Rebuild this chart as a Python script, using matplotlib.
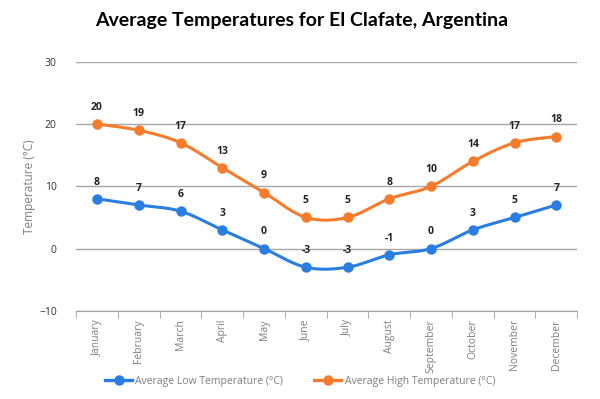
import matplotlib
import matplotlib.pyplot as plt
import numpy as np

matplotlib.use("Agg")

months = ["January", "February", "March", "April", "May", "June",
          "July", "August", "September", "October", "November", "December"]
low_temps = [8, 7, 6, 3, 0, -3, -3, -1, 0, 3, 5, 7]
high_temps = [20, 19, 17, 13, 9, 5, 5, 8, 10, 14, 17, 18]

BLUE = "#2a7de1"
ORANGE = "#f67c2c"


def _smooth(x, y, steps=20):
    """Catmull-Rom curve through the points (like Excel's smoothed line)."""
    x = np.asarray(x, float)
    y = np.asarray(y, float)
    px = np.concatenate([[x[0]], x, [x[-1]]])
    py = np.concatenate([[y[0]], y, [y[-1]]])
    xs, ys = [], []
    t = np.linspace(0, 1, steps)
    for i in range(1, len(px) - 2):
        p0, p1, p2, p3 = (np.array([px[j], py[j]]) for j in (i - 1, i, i + 1, i + 2))
        c1 = p1 + (p2 - p0) / 6
        c2 = p2 - (p3 - p1) / 6
        pts = ((1 - t)[:, None] ** 3 * p1 + 3 * ((1 - t) ** 2 * t)[:, None] * c1
               + 3 * ((1 - t) * t ** 2)[:, None] * c2 + (t ** 3)[:, None] * p2)
        xs.extend(pts[:, 0])
        ys.extend(pts[:, 1])
    return np.array(xs), np.array(ys)


plt.rcParams["font.family"] = ["Open Sans", "DejaVu Sans"]

fig = plt.figure(figsize=(6, 3.99), dpi=100)
ax = fig.add_axes([0.127, 0.221, 0.835, 0.624])

x = np.arange(len(months))
for vals, color, name in [(low_temps, BLUE, "Average Low Temperature (°C)"),
                          (high_temps, ORANGE, "Average High Temperature (°C)")]:
    sx, sy = _smooth(x, vals)
    ax.plot(sx, sy, color=color, lw=2.2, zorder=3, solid_capstyle="round")
    ax.plot(x, vals, "o", color=color, ms=6.5, zorder=4)
    ax.plot([], [], "-o", color=color, lw=2.4, ms=6.5, label=name)
    for xi, v in zip(x, vals):
        ax.annotate(str(v), (xi, v), xytext=(0, 8), textcoords="offset points",
                    ha="center", va="bottom", fontsize=7.5, fontweight="bold",
                    color="#222222")

ax.set_xlim(-0.5, len(months) - 0.5)
ax.set_ylim(-10, 30)
ax.set_yticks([-10, 0, 10, 20, 30])
ax.set_xticks(x)
ax.set_xticklabels(months, rotation=90, fontsize=7.5, color="#7f7f7f")
ax.set_xticks(np.arange(-0.5, len(months)), minor=True)
ax.tick_params(axis="x", which="major", length=0, pad=6)
ax.tick_params(axis="x", which="minor", length=5, color="#a0a0a0")
ax.tick_params(axis="y", length=0, labelsize=7.5, labelcolor="#333333", pad=14)
ax.grid(axis="y", color="#a6a6a6", lw=1)
ax.set_axisbelow(True)
for side in ("top", "right", "left"):
    ax.spines[side].set_visible(False)
ax.spines["bottom"].set_color("#a0a0a0")
ax.set_ylabel("Temperature (°C)", fontsize=8.5, color="#7f7f7f", labelpad=2)

fig.suptitle("Average Temperatures for El Clafate, Argentina", x=0.502, y=0.97,
             fontsize=14, fontweight="bold", family=["Lato", "DejaVu Sans"])

fig.legend(loc="center", bbox_to_anchor=(0.5, 0.045), ncol=2, frameon=False,
           fontsize=7.5, labelcolor="#7f7f7f", handlelength=2.6, columnspacing=3,
           handletextpad=0.3)

fig.savefig("out.png", dpi=100)
plt.close(fig)
